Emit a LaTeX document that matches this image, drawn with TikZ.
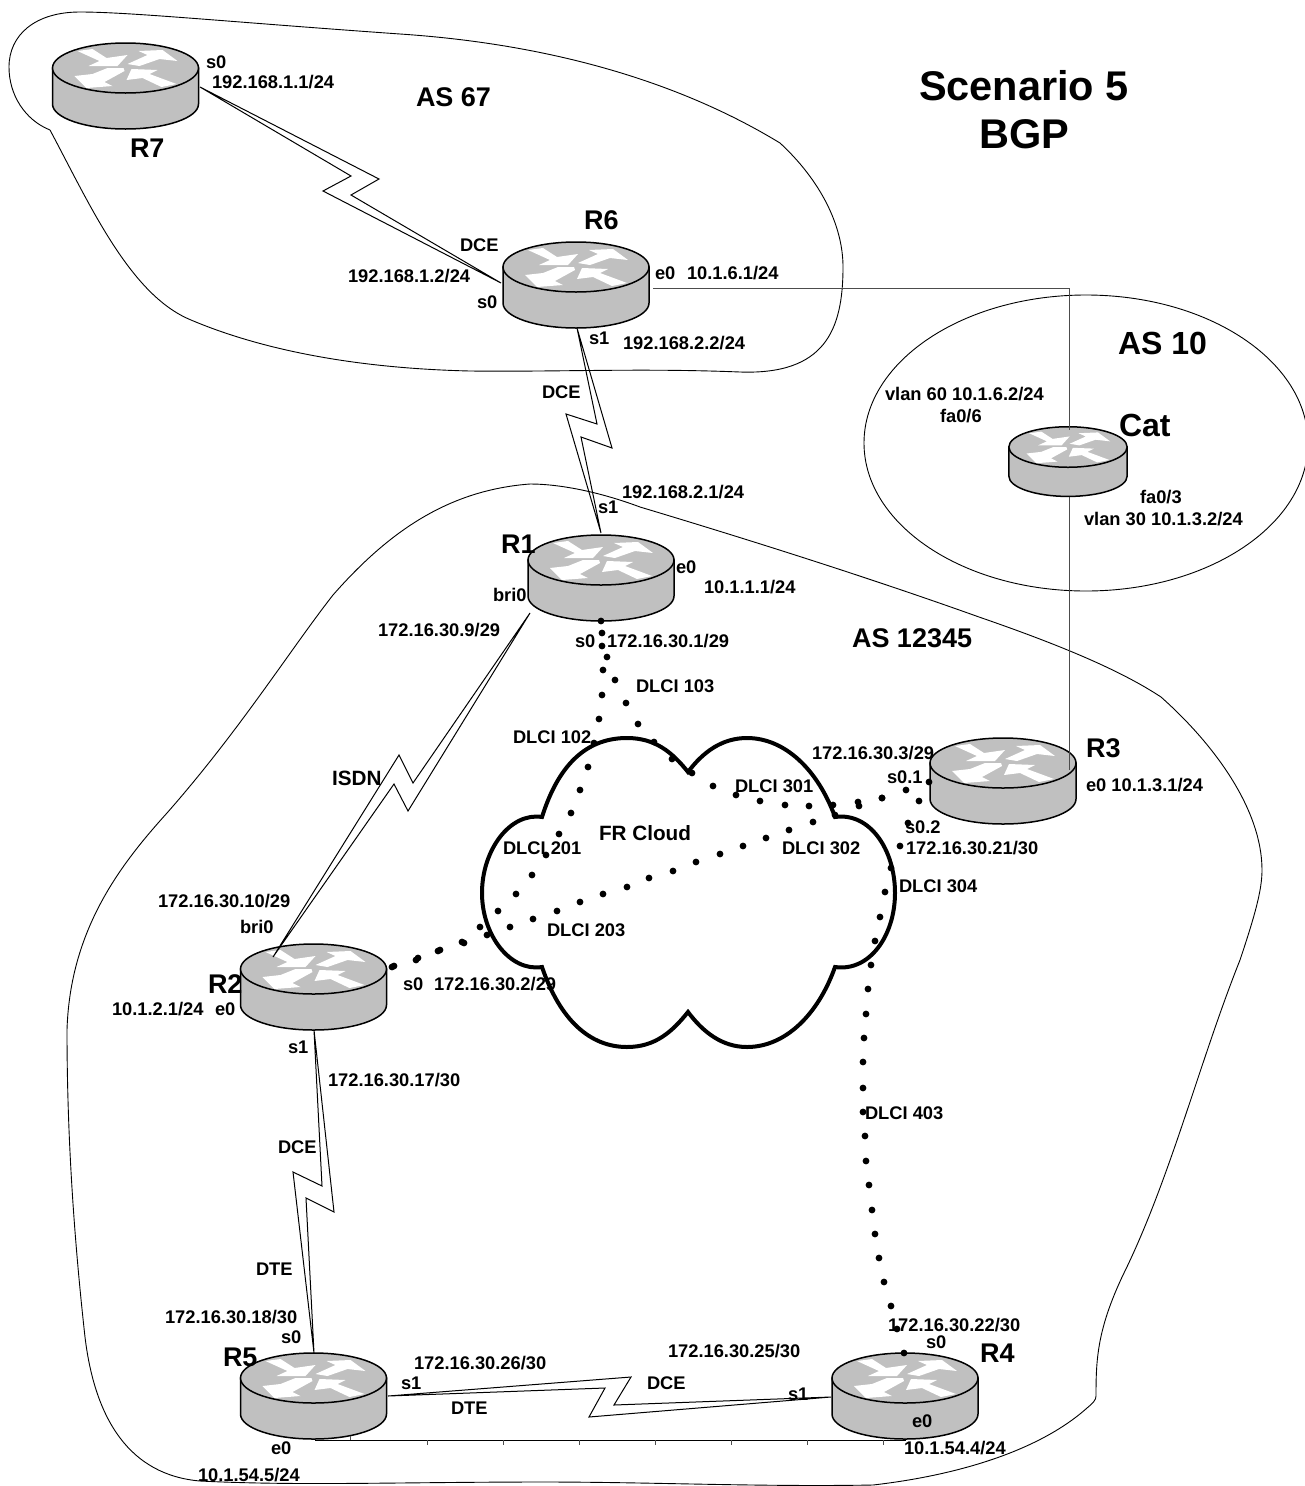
\documentclass[tikz,border=0pt]{standalone}
\usepackage{fontspec}
\setmainfont{Liberation Sans}
\usetikzlibrary{calc}
\definecolor{rgray}{HTML}{C0C0C0}
\newcounter{labc}
\tikzset{
  blob/.style={draw=black,line width=0.9pt,line join=round},
  serial/.style={draw=black,line width=1pt,line join=miter},
  wire/.style={draw=black!70,line width=1pt},
  frcloud/.style={draw=black,line width=4pt,line join=miter},
  routerline/.style={draw=black,line width=1.5pt,fill=rgray},
  routerbox/.style={inner sep=0pt,outer sep=0pt,draw=none,fill=none},
  lab/.style={inner sep=0pt,outer sep=0pt,anchor=base west,font=\fontsize{18.3}{20}\selectfont\bfseries},
  biglab/.style={inner sep=0pt,outer sep=0pt,anchor=base west,font=\fontsize{27}{29}\selectfont\bfseries},
  hugelab/.style={inner sep=0pt,outer sep=0pt,anchor=base,font=\fontsize{41.5}{44}\selectfont\bfseries},
}
% label: left x, visual centre y, text
\newcommand\lab[3]{\stepcounter{labc}\node[lab] (lab\arabic{labc}) at (#1,{#2+6}) {#3};}
\newcommand\blab[3]{\stepcounter{labc}\node[biglab] (lab\arabic{labc}) at (#1,{#2+9}) {#3};}
\newcommand\xlab[3]{\stepcounter{labc}\node[biglab,font=\fontsize{32}{34}\selectfont\bfseries] (lab\arabic{labc}) at (#1,{#2+11}) {#3};}
\newcommand\mlab[3]{\stepcounter{labc}\node[lab,font=\fontsize{20.7}{22}\selectfont\bfseries] (lab\arabic{labc}) at (#1,{#2+7}) {#3};}
% router: name, cx, cy of top ellipse, scale
\newcommand\routerdev[4]{%
 \begin{scope}[shift={(#2,#3)},x=#4pt,y=-#4pt]
  \path[routerline] (-73,0) -- (-73,36) .. controls (-73,50) and (-40,61) .. (0,61)
     .. controls (40,61) and (73,50) .. (73,36) -- (73,0) -- cycle;
  \path[routerline] (-73,0) .. controls (-73,-14) and (-40,-25) .. (0,-25)
     .. controls (40,-25) and (73,-14) .. (73,0) .. controls (73,14) and (40,25) .. (0,25)
     .. controls (-40,25) and (-73,14) .. (-73,0) -- cycle;
  \fill[white] (-48,-17)--(-33,-19)--(-19,-10)--(2,-13)--(-8,-2)--(-37,-2)--(-26,-7)--cycle;
  \fill[white] (2,-4)--(14,-2)--(34,-9)--(52,-7)--(37,-18)--(13,-17)--(22,-13)--cycle;
  \fill[white] (-2,0)--(-18,0)--(-33,6)--(-51,8)--(-39,20)--(-13,18)--(-21,14)--(-1,3)--cycle;
  \fill[white] (1,12)--(6,1)--(32,2)--(24,6)--(51,16)--(36,19)--(17,10)--cycle;
  \node[routerbox,minimum width=146*#4 pt,minimum height=86*#4 pt] (#1) at (0,18) {};
 \end{scope}}
\begin{document}
\begin{tikzpicture}[x=1pt,y=-1pt]
\useasboundingbox (0,0) rectangle (1304,1486);
\fill[white] (0,0) rectangle (1304,1486);

% autonomous-system outlines
\draw[blob] (50,130) .. controls (25,120) and (9,95) .. (9,67)
  .. controls (9,35) and (35,12) .. (80,12)
  .. controls (130,12) and (230,22) .. (400,34)
  .. controls (520,42) and (660,70) .. (780,143)
  .. controls (820,180) and (843,225) .. (843,267)
  .. controls (843,330) and (825,375) .. (740,372)
  .. controls (640,368) and (560,372) .. (470,371)
  .. controls (340,368) and (250,345) .. (191,320)
  .. controls (130,295) and (90,205) .. (50,130);
\draw[blob] (530,484) .. controls (450,490) and (390,530) .. (333,595)
  .. controls (290,650) and (240,730) .. (167,813)
  .. controls (120,865) and (70,930) .. (67,1030)
  .. controls (67,1120) and (72,1220) .. (85,1337)
  .. controls (95,1420) and (130,1475) .. (200,1481)
  .. controls (300,1486) and (400,1482) .. (544,1482)
  .. controls (650,1482) and (760,1487) .. (873,1485)
  .. controls (960,1475) and (1040,1450) .. (1087,1408)
  .. controls (1093,1403) and (1096,1400) .. (1096,1396)
  .. controls (1096,1360) and (1097,1330) .. (1123,1275)
  .. controls (1170,1180) and (1200,1060) .. (1240,960)
  .. controls (1255,915) and (1262,890) .. (1262,870)
  .. controls (1262,810) and (1215,745) .. (1161,697)
  .. controls (1120,670) and (1060,645) .. (979,617)
  .. controls (870,578) and (750,540) .. (640,507)
  .. controls (600,492) and (560,484) .. (530,484) -- cycle;
\draw[blob] (1086,443) ellipse (222pt and 148pt);

% frame-relay cloud
\draw[frcloud] (542,817) .. controls (560,760) and (590,738) .. (627,738) .. controls (655,738) and (672,752) .. (688,772)
  .. controls (703,752) and (722,738) .. (747,738) .. controls (785,738) and (818,770) .. (835,817)
  .. controls (870,812) and (895,850) .. (895,893) .. controls (895,935) and (870,972) .. (835,967)
  .. controls (818,1015) and (785,1047) .. (747,1047) .. controls (722,1047) and (703,1032) .. (688,1012)
  .. controls (672,1032) and (655,1047) .. (627,1047) .. controls (590,1047) and (560,1020) .. (542,967)
  .. controls (510,972) and (482,935) .. (482,893) .. controls (482,850) and (510,812) .. (542,817) -- cycle;

% routers
\routerdev{R7}{125.5}{68}{1}
\routerdev{R6}{576}{267}{1}
\routerdev{R1}{601}{560}{1}
\routerdev{R2}{313.5}{969}{1}
\routerdev{R3}{1003}{763}{1}
\routerdev{R5}{313.5}{1378}{1}
\routerdev{R4}{905}{1378}{1}
\routerdev{Cat}{1068}{447}{0.81}

% ports
\coordinate (R7s0) at ($(R7)+(74.5,1)$);
\coordinate (R6s0) at ($(R6)+(-75,-2)$);
\coordinate (R6e0) at ($(R6)+(77,3)$);
\coordinate (R6s1) at ($(R6)+(1,43)$);
\coordinate (R1s1) at ($(R1)+(0,-45)$);
\coordinate (R1bri) at ($(R1)+(-71,35)$);
\coordinate (R2bri) at ($(R2)+(-40.5,-30)$);
\coordinate (R2s1) at ($(R2)+(0.5,43)$);
\coordinate (R5s0) at ($(R5)+(0.5,-43)$);
\coordinate (R5s1) at ($(R5)+(74.5,0)$);
\coordinate (R5e0) at ($(R5)+(1.5,44)$);
\coordinate (R4s1) at ($(R4)+(-74,1)$);
\coordinate (R4e0) at ($(R4)+(1,44)$);
\coordinate (CatN) at ($(Cat)+(1,-32)$);
\coordinate (CatS) at ($(Cat)+(1,35)$);
\coordinate (R3Cat) at ($(R3)+(66,-11)$);

% serial links with a lightning kink
\draw[serial] (R7s0) -- (379,179) -- (351,195) -- (R6s0) -- (323,191) -- (351,176) -- cycle;
\draw[serial] (R6s1) -- (612,448) -- (581,437) -- (R1s1) -- (566,414) -- (597,424) -- cycle;
\draw[serial] (R1bri) -- (413,783) -- (399,755) -- (R2bri) -- (394,784) -- (408,811) -- cycle;
\draw[serial] (R2s1) -- (334,1212) -- (306,1198) -- (R5s0) -- (293,1172) -- (322,1186) -- cycle;
\draw[serial] (R5s1) -- (631,1377) -- (614,1405) -- (R4s1) -- (589,1417) -- (605,1388) -- cycle;

% ethernet links
\draw[wire] (R6e0) -| (CatN);
\draw[wire] (CatS) -- (R3Cat);
\draw[draw=black,line width=1pt] (R5e0) -- (R4e0);
\foreach \t in {427,503,579,655,731,807,883} \draw[black!70,line width=0.8pt] (\t,1440) -- (\t,1445);
\draw[black!70,line width=0.8pt] (350,1440) -- (350,1436);

% frame-relay virtual circuits (dotted)
\foreach \p in {(601,621),(602,633),(602,646),(603,670),(602,695),(599,719),(594,743),(588,767),(580,790),(571,813),(559,834),(546,855),(532,875),(516,894),(498,911),(480,927),(462,942),(438,951),(416,960),(392,967)}
  \fill \p circle (3.4pt);
\foreach \p in {(607,657),(615,680),(626,703),(638,724),(654,742),(672,759),(692,773),(713,786),(736,795),(760,801),(785,805),(809,806),(833,805),(858,802),(882,798)}
  \fill \p circle (3.4pt);
\foreach \p in {(394,966),(418,958),(440,950),(464,943),(487,935),(510,927),(533,919),(557,911),(580,902),(603,894),(627,887),(649,878),(673,871),(696,862),(720,854),(743,846),(766,838),(789,830),(813,822),(835,815),(859,806),(882,798),(906,790),(929,782)}
  \fill \p circle (3.4pt);
\foreach \p in {(919,801),(908,823),(900,846),(891,868),(885,892),(880,917),(875,941),(871,965),(868,989),(866,1014),(864,1038),(863,1062),(863,1088),(863,1112),(865,1136),(866,1161),(869,1185),(872,1210),(875,1234),(879,1258),(884,1282),(891,1306),(897,1329),(904,1353)}
  \fill \p circle (3.4pt);

% titles
\stepcounter{labc}\node[hugelab] (title1) at (1024,100) {Scenario 5};
\stepcounter{labc}\node[hugelab] (title2) at (1024,148) {BGP};

% big labels
\blab{416}{97}{AS 67}
\blab{130}{148}{R7}
\blab{584}{220}{R6}
\blab{501}{544}{R1}
\blab{852}{638}{AS 12345}
\blab{1086}{748}{R3}
\blab{208}{984}{R2}
\blab{223}{1357}{R5}
\blab{980}{1353}{R4}
\xlab{1118}{343}{AS 10}
\xlab{1119}{425}{Cat}
\mlab{599}{833}{FR Cloud}
\mlab{332}{778}{ISDN}

% interface labels
\lab{206}{62}{s0}
\lab{212}{82}{192.168.1.1/24}
\lab{460}{245}{DCE}
\lab{348}{276}{192.168.1.2/24}
\lab{477}{302}{s0}
\lab{655}{273}{e0}
\lab{687}{273}{10.1.6.1/24}
\lab{589}{338}{s1}
\lab{623}{343}{192.168.2.2/24}
\lab{542}{392}{DCE}
\lab{885}{394}{vlan 60 10.1.6.2/24}
\lab{940}{416}{fa0/6}
\lab{1140}{497}{fa0/3}
\lab{1084}{519}{vlan 30 10.1.3.2/24}
\lab{622}{492}{192.168.2.1/24}
\lab{598}{507}{s1}
\lab{676}{567}{e0}
\lab{704}{587}{10.1.1.1/24}
\lab{493}{595}{bri0}
\lab{378}{630}{172.16.30.9/29}
\lab{575}{641}{s0}
\lab{607}{641}{172.16.30.1/29}
\lab{636}{686}{DLCI 103}
\lab{513}{737}{DLCI 102}
\lab{812}{753}{172.16.30.3/29}
\lab{887}{777}{s0.1}
\lab{1086}{785}{e0 10.1.3.1/24}
\lab{735}{786}{DLCI 301}
\lab{905}{827}{s0.2}
\lab{906}{848}{172.16.30.21/30}
\lab{503}{848}{DLCI 201}
\lab{782}{848}{DLCI 302}
\lab{899}{886}{DLCI 304}
\lab{547}{930}{DLCI 203}
\lab{158}{901}{172.16.30.10/29}
\lab{240}{927}{bri0}
\lab{112}{1009}{10.1.2.1/24}
\lab{215}{1009}{e0}
\lab{403}{984}{s0}
\lab{434}{984}{172.16.30.2/29}
\lab{288}{1047}{s1}
\lab{328}{1080}{172.16.30.17/30}
\lab{865}{1113}{DLCI 403}
\lab{278}{1147}{DCE}
\lab{256}{1269}{DTE}
\lab{165}{1317}{172.16.30.18/30}
\lab{281}{1337}{s0}
\lab{271}{1448}{e0}
\lab{198}{1475}{10.1.54.5/24}
\lab{414}{1363}{172.16.30.26/30}
\lab{401}{1383}{s1}
\lab{451}{1408}{DTE}
\lab{668}{1351}{172.16.30.25/30}
\lab{647}{1383}{DCE}
\lab{788}{1394}{s1}
\lab{926}{1342}{s0}
\lab{888}{1325}{172.16.30.22/30}
\lab{912}{1421}{e0}
\lab{904}{1448}{10.1.54.4/24}
\end{tikzpicture}
\end{document}
